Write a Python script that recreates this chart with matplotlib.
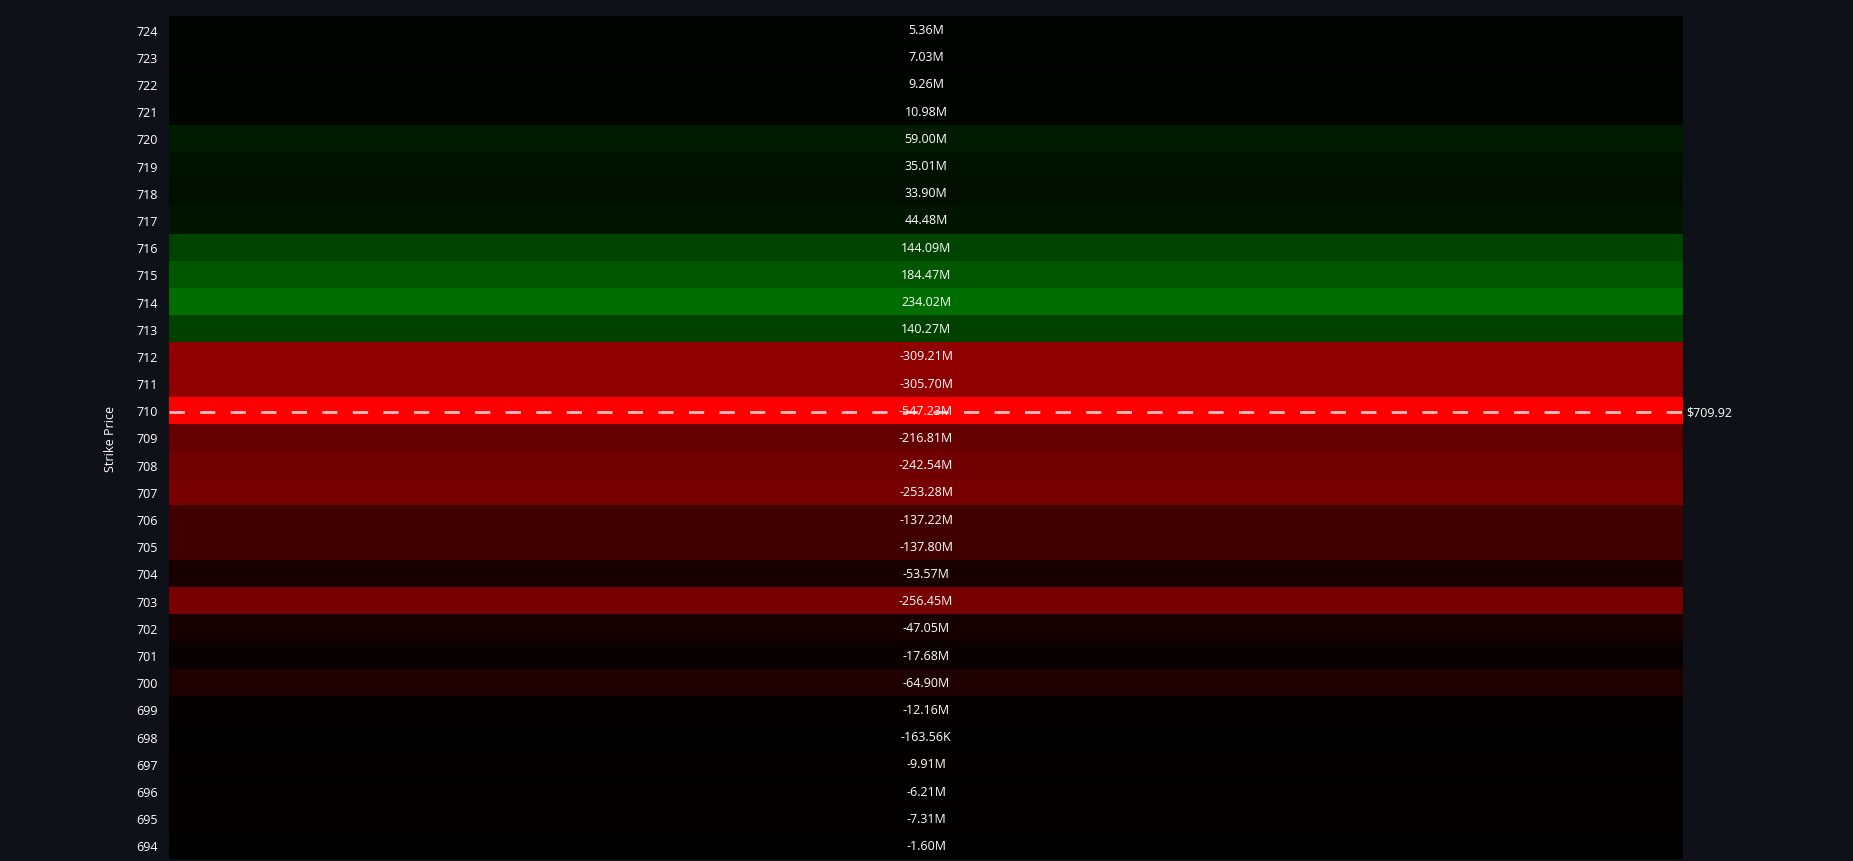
import numpy as np
import matplotlib.pyplot as plt
from matplotlib.colors import LinearSegmentedColormap

#%% Data
strikes = list(range(694, 725))
# net exposure per strike, in millions (bottom to top)
exposure = [-1.60, -7.31, -6.21, -9.91, -0.16356, -12.16, -64.90, -17.68, -47.05,
            -256.45, -53.57, -137.80, -137.22, -253.28, -242.54, -216.81, -547.23,
            -305.70, -309.21, 140.27, 234.02, 184.47, 144.09, 44.48, 33.90, 35.01,
            59.00, 10.98, 9.26, 7.03, 5.36]
spot = 709.92


def fmt(v):
    if abs(v) < 1:
        return f"{v * 1000:.2f}K"
    return f"{v:.2f}M"


#%% Plot
bg = "#0e1117"
plt.rcParams['font.family'] = ['Open Sans', 'DejaVu Sans']

cmap = LinearSegmentedColormap.from_list("gex", ["#ff0000", "#000000", "#00ff00"])
vmax = max(abs(v) for v in exposure)

fig = plt.figure(figsize=(18.53, 8.62), dpi=100, facecolor=bg)
ax = fig.add_axes([0.0912, 0.0023, 0.8171, 0.978])
ax.set_facecolor(bg)

y_edges = np.arange(strikes[0] - 0.5, strikes[-1] + 1.5, 1)
z = np.array(exposure).reshape(-1, 1)
ax.pcolormesh([0, 1], y_edges, z, cmap=cmap, vmin=-vmax, vmax=vmax)

for s, v in zip(strikes, exposure):
    ax.text(0.5, s, fmt(v), color="white", ha="center", va="center", fontsize=9)

ax.axhline(spot, color="white", alpha=0.75, lw=2, dashes=(5.5, 5.5))
ax.text(1.002, spot, f"${spot:.2f}", color="white", ha="left", va="center",
        fontsize=9, transform=ax.get_yaxis_transform())

ax.set_xlim(0, 1)
ax.set_ylim(y_edges[0], y_edges[-1])
ax.set_xticks([])
ax.set_yticks(strikes)
ax.set_yticklabels([str(s) for s in strikes], color="white", fontsize=9)
ax.tick_params(axis="y", length=0, pad=8)
ax.set_ylabel("Strike Price", color="white", fontsize=9, labelpad=14)
for sp in ax.spines.values():
    sp.set_visible(False)

fig.savefig("out.png", dpi=100, facecolor=bg)
